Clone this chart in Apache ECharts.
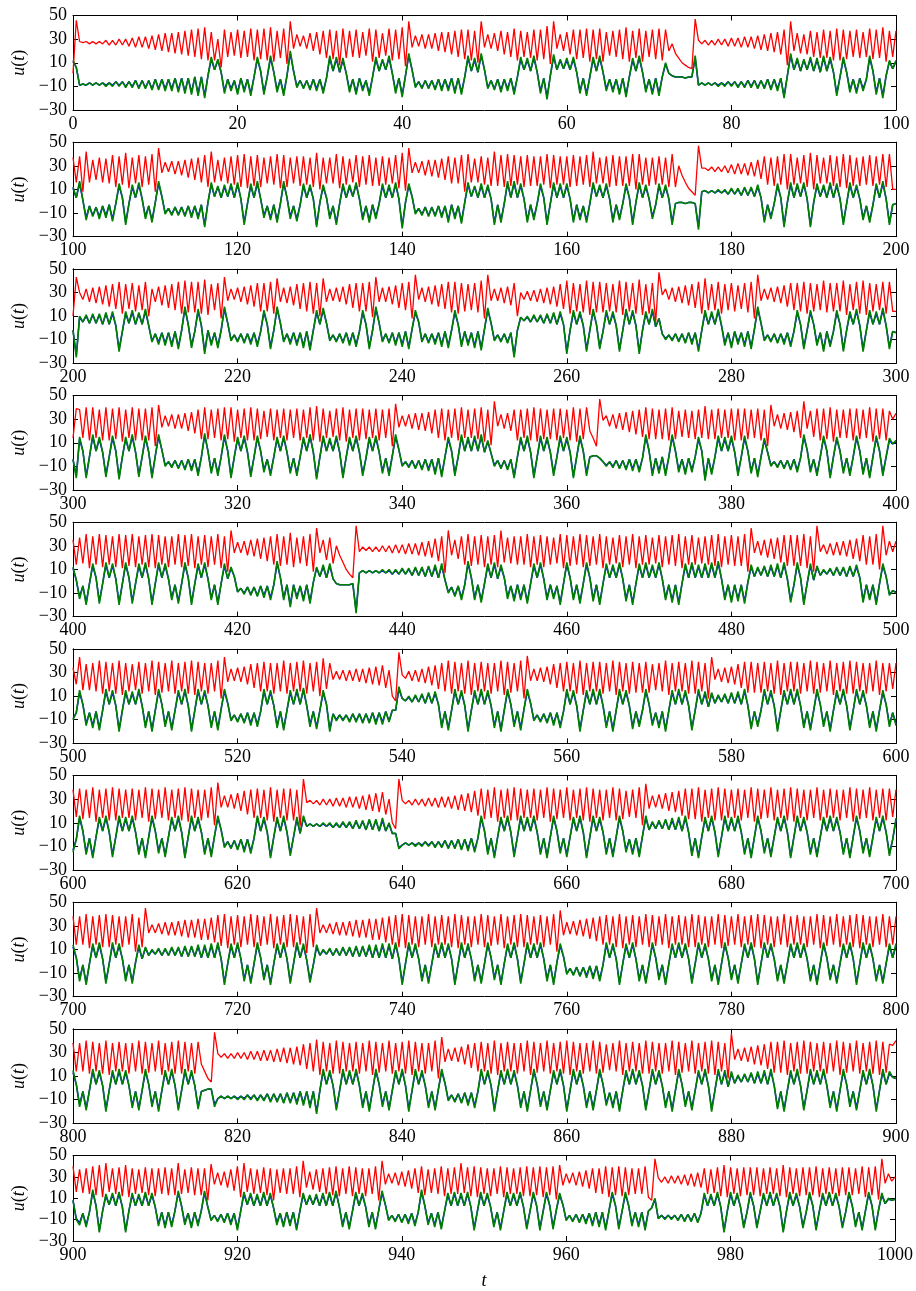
<!DOCTYPE html>
<html>
<head>
<meta charset="utf-8">
<script src="https://cdn.jsdelivr.net/npm/echarts@6/dist/echarts.min.js"></script>
<style>
  html, body { margin: 0; padding: 0; background: #fff; }
  #chart { width: 916px; height: 1291px; }
</style>
</head>
<body>
<div id="chart"></div>
<script>
// Stored samples are spaced DT time units apart; each row covers 100 time units.
const DT = 0.4;
const panelStart = [0, 100, 200, 300, 400, 500, 600, 700, 800, 900];
const yTicks = [-30, -10, 10, 30, 50];
const xStep = 20;

// ---------- x(t) (blue) ----------
const x1 = [11,6,-9,-8,-9,-7,-9,-7,-9,-7,-9,-7,-9,-6,-9,-6,-10,-6,-10,-5,-11,-5,-11,-5,-12,-4,-12,-4,-12,-4,-12,-3,-13,-3,-14,-3,-15,-2,-16,-2,-18,-1,
  13,4,12,2,-14,-4,-12,-5,-15,-3,-13,-4,-16,-2,13,3,-15,-2,14,2,-13,-4,-16,-1,18,3,-10,-5,-11,-5,-12,-4,-12,-4,-14,-3,14,3,13,2,12,1,
  -13,-4,-15,-3,-12,-5,-16,-2,13,3,12,4,14,1,-14,-3,-17,-1,16,4,-10,-6,-11,-5,-11,-5,-12,-4,-12,-4,-12,-3,-14,-3,-15,-2,14,3,12,2,16,4,
  -11,-5,-12,-4,-13,-4,-12,-3,-15,-2,13,4,12,3,14,2,-14,-3,-19,-1,15,4,12,5,12,4,13,2,-14,-3,-16,-2,13,3,14,2,-12,-4,-13,-4,-15,-3,-17,-2,
  12,3,14,2,-13,-4,-15,-3,-16,-2,9,1,-1,-2,-2,-2,-3,-2,-2,14,-9,-7,-9,-7,-9,-7,-9,-7,-9,-6,-9,-6,-10,-6,-10,-5,-10,-5,-11,-5,-11,-4,-12,-4,-12,-3,
  -18,-1,16,4,12,3,12,4,13,3,12,2,14,3,13,2,-16,-2,13,2,-13,-4,-14,-3,-12,-4,14,3,-15,-3,-18,-1,11,5];
const x2 = [11,3,15,1,-14,-4,-12,-5,-13,-4,-12,-3,-15,-2,13,3,-18,-2,12,3,14,2,-13,-4,-16,-1,15,4,-10,-6,-11,-5,-11,-5,-12,-4,-12,-4,-13,-3,-20,-1,
  14,4,12,3,12,4,13,3,14,2,-18,-2,13,3,15,2,-12,-4,-14,-3,-16,-2,15,3,-13,-4,-15,-3,13,3,12,2,-20,-1,12,3,-13,-4,-18,-2,13,3,12,4,14,2,
  -14,-4,-16,-3,-13,-2,13,3,12,3,14,2,-21,-1,13,4,-10,-6,-11,-5,-12,-5,-12,-4,-12,-4,-16,-3,-13,-4,-17,-1,14,4,12,3,13,3,12,2,-18,-3,-16,-2,
  15,3,15,3,13,2,-16,-3,-14,-2,13,3,-18,-2,14,3,13,3,13,2,-16,-3,-14,-4,-16,-2,14,4,12,3,13,2,-16,-3,-14,-2,13,3,-18,-1,14,3,12,2,-13,-3,
  13,3,12,2,-18,-2,-1,-1,-2,-1,-1,-2,-22,8,9,7,9,7,9,7,9,6,10,6,10,5,11,5,11,4,12,3,-16,-3,-13,-2,13,3,-20,-1,14,3,13,4,14,2,-20,-1,
  13,4,12,3,14,3,13,2,-18,-2,14,3,12,2,-14,-4,-16,-3,13,3,15,2,-18,-3];
const x3 = [-2,-23,9,5,10,4,11,4,11,3,12,3,12,2,-18,-3,12,4,13,3,12,3,14,2,-11,-5,-12,-4,-13,-4,-14,-3,-16,-2,16,3,-15,-3,14,2,-20,-2,-13,-4,-15,-2,
  16,4,-10,-6,-11,-5,-12,-5,-12,-4,-14,-3,13,3,-16,-2,16,4,-11,-5,-12,-4,-13,-4,-15,-3,-17,-2,13,3,15,4,-10,-6,-11,-5,-12,-4,-13,-4,-14,-3,
  13,3,-16,-2,16,4,-11,-5,-12,-4,-13,-4,-14,-3,-16,-1,13,5,-11,-5,-12,-5,-12,-4,-14,-3,-15,-2,13,3,-14,-3,-13,-4,-15,-3,-17,-1,15,4,
  -10,-6,-11,-5,-12,-4,-23,-2,9,6,9,5,10,5,10,4,11,4,12,3,12,3,-20,-2,13,3,12,2,-18,-2,14,3,-16,-3,13,3,12,2,-18,-2,14,3,13,2,-20,-2,
  12,3,14,1,8,-5,-9,-6,-10,-5,-11,-5,-12,-4,-12,-4,-18,-2,13,3,12,3,14,2,-13,-4,-15,-3,-12,-4,-14,-3,-16,-1,16,4,-10,-6,-11,-5,-12,-5,-12,-4,-14,-3,
  13,3,-16,-2,13,3,-13,-4,-18,-3,-14,-3,13,3,-18,-2,12,3,14,2,-18,-2,13,3,12,3,15,2,-16,-3];
const x4 = [-4,-18,13,3,-18,-2,15,3,13,2,-17,-2,14,3,-19,-2,13,3,15,2,-17,-2,14,2,-18,-1,15,4,-9,-6,-10,-5,-11,-5,-12,-4,-12,-4,-16,-2,16,3,
  -14,-3,-16,-2,15,3,-18,-2,13,3,14,2,-17,-2,14,3,-13,-4,-16,-2,13,3,14,2,-14,-3,-16,-2,13,3,15,2,-19,-2,14,3,12,3,14,2,-18,-2,13,3,14,2,
  -16,-3,13,3,14,2,-14,-3,-16,-1,15,4,-9,-6,-10,-5,-11,-5,-12,-4,-12,-4,-15,-3,-17,-2,13,3,-16,-2,15,3,13,3,14,3,15,2,11,1,
  -9,-5,-11,-5,-12,-4,-18,-2,13,3,14,2,-18,-2,14,3,13,2,-16,-2,14,3,13,2,-18,-2,14,3,-16,-2,-1,-1,-3,-6,
  -9,-6,-10,-5,-11,-5,-12,-4,-12,-4,-13,-3,15,3,-16,-3,-14,-2,-16,-2,15,3,-13,-4,-15,-3,-13,-2,13,3,-20,-3,-15,-2,14,3,13,3,14,2,-16,-2,14,3,
  -14,-3,-17,-2,12,2,-9,-6,-10,-5,-11,-5,-12,-4,-13,-3,15,4,-13,-4,-16,-2,14,3,-18,-2,13,3,-14,-3,-16,-2,14,3,-15,-3,-18,-2,14,3,-16,-2,12,9];
const x5 = [11,1,-13,-4,-18,-2,13,3,-17,-2,14,3,13,2,-18,-2,14,3,-17,-2,13,3,14,2,-18,-2,14,3,13,2,-14,-3,-17,-2,14,3,-18,-2,13,3,14,2,
  -14,-3,-18,-2,13,2,11,4,-9,-6,-10,-5,-11,-5,-12,-4,-12,-4,-14,-3,15,3,-14,-3,-20,-3,-13,-4,-15,-3,-17,-1,11,4,12,3,13,2,
  -2,-3,-3,-3,-3,-2,-25,7,9,7,9,7,9,7,9,7,9,6,9,6,10,6,10,5,11,5,11,4,12,4,12,3,13,1,-9,-5,-12,-4,-14,-3,15,3,-14,-3,-16,-2,13,3,14,2,12,3,
  -13,-4,-15,-3,-14,-3,-17,-2,13,3,14,2,-14,-3,-13,-4,-18,-2,14,3,-14,-3,-17,-2,14,3,-15,-3,-18,-2,13,3,12,3,14,2,-15,-3,-18,-2,
  13,3,14,3,12,3,14,2,-14,-3,-16,-3,-18,-2,13,3,14,3,12,3,13,3,14,3,15,2,-14,-3,-16,-3,-15,-3,-17,-1,12,4,11,5,12,4,12,4,13,3,14,2,
  -16,-3,14,3,-18,-2,13,1,12,5,9,6,10,5,11,5,11,4,12,4,12,3,-16,-3,-14,-3,-18,-2,13,4,-11,-8];
const x6 = [-9,-4,13,3,-13,-4,-15,-3,-17,-2,14,3,13,2,-18,-2,13,3,12,3,14,2,-15,-3,-18,-2,14,3,-14,-3,-17,-2,13,3,14,2,-18,-2,14,3,13,2,
  -15,-3,-17,-1,14,4,-10,-6,-11,-5,-12,-4,-13,-4,-14,-3,14,3,13,2,-15,-3,-17,-2,13,3,14,3,15,2,-14,-3,-16,-2,13,3,-18,-5,
  -10,-6,-10,-6,-11,-5,-11,-5,-12,-5,-12,-4,-12,-4,-12,-3,-11,-2,-2,16,8,6,9,5,10,5,11,4,12,4,12,3,-15,-3,-17,-2,14,3,13,2,-18,-2,
  13,3,14,3,13,2,-15,-3,-18,-2,14,3,-14,-3,-17,-1,14,4,-10,-6,-11,-5,-12,-4,-13,-4,-15,-3,14,3,13,2,-18,-2,13,3,14,3,14,2,-15,-3,-18,-2,
  14,3,13,2,-16,-3,-14,-2,14,3,-13,-4,-15,-3,-18,-2,13,3,14,3,13,2,-17,-2,14,3,12,1,12,4,10,5,11,4,12,4,12,3,14,2,-16,-3,-14,-2,
  14,3,13,2,-18,-2,13,3,14,3,14,2,-15,-3,-17,-2,14,3,-14,-3,-18,-2,13,3,14,2,-17,-2,14,3,13,2,-15,-3,-18,-2,13,3,-14,-4];
const x7 = [-13,-4,14,3,-15,-3,-18,-2,13,3,14,2,-17,-2,14,3,13,3,14,2,-15,-3,-18,-2,14,3,-14,-3,-17,-2,13,3,14,2,-18,-2,14,3,13,2,
  -15,-3,-17,-1,14,4,-10,-6,-11,-5,-12,-4,-13,-4,-14,-3,14,3,13,2,-18,-2,13,3,14,2,-16,-2,13,1,14,7,
  9,7,9,7,9,7,9,6,9,6,10,6,10,5,11,5,11,4,12,4,12,3,12,3,9,1,1,-11,
  -9,-7,-9,-7,-9,-7,-9,-6,-9,-6,-10,-6,-10,-5,-11,-5,-11,-4,-12,-4,-12,-3,-13,-3,14,3,-15,-3,-18,-2,13,3,14,2,-17,-2,14,3,13,3,14,2,
  -15,-3,-18,-2,14,3,-14,-3,-17,-2,13,3,14,2,-18,-2,14,3,13,2,-15,-3,-17,-2,14,3,-13,-4,-15,-3,-17,-1,14,4,10,5,11,5,12,4,12,4,13,3,14,2,
  -16,-3,-18,-2,13,3,14,2,-17,-2,14,3,13,3,14,2,-15,-3,-18,-2,14,3,-14,-3,-17,-2,13,3,14,2,-18,-2,14,3,13,2,-15,-3,-17,-2,
  13,3,14,3,13,2,-15,-3,-18,-2,14,3,-14,-3,-17,-2,13,3,14,2,-16,-4];
const x8 = [12,3,-15,-3,-18,-2,13,3,14,2,-17,-2,14,3,13,2,-15,-3,-17,-1,12,2,11,5,9,6,10,5,10,5,11,5,11,4,12,4,12,4,12,3,12,3,13,3,14,2,
  -18,-2,13,3,14,2,-15,-3,-17,-2,14,3,-14,-3,-18,-2,13,3,14,2,-17,-2,14,3,13,1,-16,-3,12,5,
  9,6,10,5,10,5,11,5,11,4,12,4,12,4,12,3,12,3,13,3,13,2,14,2,-18,-2,14,3,13,2,-15,-3,-17,-2,13,3,14,3,13,2,-18,-2,14,3,13,2,
  -15,-3,-17,-2,14,3,-14,-3,-18,-2,13,3,14,2,-17,-2,14,3,13,3,14,2,-15,-3,-18,-1,13,4,-10,-6,-11,-5,-12,-5,-12,-4,-13,-4,-15,-3,
  14,3,13,2,-18,-2,13,3,14,2,-15,-3,-17,-2,14,3,-14,-3,-18,-2,13,3,14,3,13,2,-17,-2,14,3,13,2,-15,-3,-18,-2,14,3,-14,-3,-17,-2,
  13,3,14,2,-18,-2,14,3,13,2,-15,-3,-17,-2,13,3,14,3,13,2,-15,-3,-18,-2,14,3,-14,-3,-17,-2,13,3,14,2,-18,-2,14,3,13,2,-15,-3,-17,-2,13,3];
const x9 = [13,3,-14,-3,-17,-2,14,3,13,2,-18,-2,13,3,14,3,13,2,-15,-3,-17,-2,14,3,-14,-3,-18,-2,13,3,14,2,-17,-2,14,3,13,2,-16,-3,-2,-1,-1,-14,
  -9,-7,-9,-7,-9,-7,-9,-7,-9,-6,-9,-6,-10,-6,-10,-5,-11,-5,-11,-5,-12,-4,-12,-4,-12,-3,-13,-3,-15,-3,-20,-2,14,3,13,2,-17,-2,14,3,13,3,14,2,
  -15,-3,-18,-2,14,3,-14,-3,-17,-2,13,3,14,2,-18,-2,14,3,13,2,-15,-3,-17,-1,14,4,-10,-6,-11,-5,-12,-4,-13,-4,-15,-3,14,3,13,2,-18,-2,
  13,3,14,3,13,2,-15,-3,-18,-2,14,3,-14,-3,-17,-2,13,3,14,2,-18,-2,14,3,13,2,-15,-3,-17,-2,14,3,-13,-4,-15,-3,-18,-2,13,3,14,3,13,2,
  -17,-2,14,3,13,2,-15,-3,-18,-2,14,3,-14,-3,-17,-2,13,3,14,2,-18,-2,14,3,13,1,12,4,10,5,11,5,12,4,12,4,13,3,14,2,-16,-3,-18,-2,
  13,3,14,2,-17,-2,14,3,13,3,14,2,-15,-3,-18,-2,14,3,-14,-3,-17,-2,13,3,14,2,-18,-2,14,3,12,9];
const x10 = [8,-9,-13,-4,-15,-3,16,3,-20,-2,12,4,13,3,14,2,-20,-2,13,3,12,3,14,3,13,2,-14,-3,-16,-3,-15,-2,15,3,-13,-4,-16,-3,-14,-2,15,2,
  -10,-6,-11,-5,-12,-4,-13,-4,-18,-2,14,4,13,3,12,3,14,3,13,1,-13,-4,-15,-3,-14,-3,-18,-2,13,4,12,4,12,3,13,3,14,3,15,2,-15,-3,-17,-2,
  14,3,13,2,-15,-3,-17,-1,15,4,-10,-6,-11,-5,-12,-5,-12,-4,-14,-3,16,3,-13,-4,-15,-3,-17,-2,13,3,14,3,13,3,14,2,-18,-2,14,3,13,2,
  -15,-3,-18,-2,14,3,13,3,14,2,-17,-2,14,3,-18,-2,14,3,-17,-1,13,4,-10,-6,-11,-5,-12,-5,-12,-4,-14,-3,-15,-3,-18,-2,14,3,-17,-2,14,3,
  -14,-3,-15,-3,-18,-2,1,9,-9,-6,-9,-6,-9,-6,-10,-5,-11,-5,-11,-4,-12,-4,13,3,12,3,14,2,-20,-2,14,3,13,2,-16,-3,14,3,-16,-2,13,3,14,3,13,2,
  -20,-2,14,3,13,2,-16,-3,14,3,-18,-2,13,3,14,3,13,2,-16,-3,14,3,-15,-3,-18,-2,14,3,-18,-1,13,5,9,8,9];

// ---------- y(t) (green) ----------
const y1 = [12,6,-9,-8,-9,-7,-9,-7,-9,-7,-10,-7,-10,-6,-10,-6,-11,-6,-11,-5,-12,-5,-12,-5,-13,-4,-13,-4,-14,-4,-14,-3,-15,-3,-16,-3,-17,-2,-18,-2,-20,-1,
  15,4,13,2,-16,-4,-14,-5,-17,-3,-15,-4,-18,-2,15,3,-17,-2,16,2,-15,-4,-18,-1,20,3,-11,-5,-12,-5,-13,-4,-14,-4,-16,-3,16,3,15,2,14,1,
  -15,-4,-17,-3,-14,-5,-18,-2,15,3,13,4,16,1,-16,-3,-19,-1,18,4,-11,-6,-12,-5,-12,-5,-13,-4,-14,-4,-14,-3,-16,-3,-17,-2,16,3,14,2,18,4,
  -12,-5,-13,-4,-15,-4,-14,-3,-17,-2,15,4,14,3,16,2,-16,-3,-21,-1,17,4,13,5,14,4,15,2,-16,-3,-18,-2,15,3,16,2,-14,-4,-15,-4,-17,-3,-19,-2,
  14,3,16,2,-15,-4,-17,-3,-18,-2,10,1,-1,-2,-2,-2,-3,-2,-2,16,-9,-7,-9,-7,-9,-7,-10,-7,-10,-6,-10,-6,-11,-6,-11,-5,-11,-5,-12,-5,-12,-4,-13,-4,-14,-3,
  -20,-1,18,4,14,3,13,4,15,3,14,2,16,3,15,2,-18,-2,15,2,-15,-4,-16,-3,-14,-4,16,3,-17,-3,-20,-1,12,5];
const y2 = [12,3,17,1,-16,-4,-13,-5,-15,-4,-14,-3,-17,-2,15,3,-20,-2,14,3,16,2,-15,-4,-18,-1,17,4,-11,-6,-12,-5,-12,-5,-13,-4,-14,-4,-15,-3,-22,-1,
  16,4,13,3,14,4,15,3,16,2,-20,-2,15,3,17,2,-14,-4,-16,-3,-18,-2,17,3,-15,-4,-17,-3,15,3,14,2,-22,-1,14,3,-15,-4,-20,-2,15,3,14,4,16,2,
  -16,-4,-18,-3,-15,-2,15,3,14,3,16,2,-23,-1,15,4,-11,-6,-12,-5,-13,-5,-13,-4,-14,-4,-18,-3,-15,-4,-19,-1,16,4,13,3,15,3,14,2,-20,-3,-18,-2,
  17,3,17,3,15,2,-18,-3,-16,-2,15,3,-20,-2,16,3,15,3,15,2,-18,-3,-16,-4,-18,-2,16,4,14,3,15,2,-18,-3,-16,-2,15,3,-20,-1,16,3,14,2,-15,-3,
  15,3,14,2,-20,-2,-1,-1,-2,-1,-1,-2,-24,8,9,7,9,7,10,7,10,6,11,6,11,5,12,5,12,4,14,3,-18,-3,-15,-2,15,3,-22,-1,16,3,15,4,16,2,-22,-1,
  15,4,14,3,16,3,15,2,-20,-2,16,3,14,2,-16,-4,-18,-3,15,3,17,2,-20,-3];
const y3 = [-2,-25,10,5,11,4,12,4,12,3,13,3,14,2,-20,-3,14,4,15,3,13,3,16,2,-12,-5,-14,-4,-15,-4,-16,-3,-18,-2,18,3,-17,-3,16,2,-22,-2,-15,-4,-17,-2,
  18,4,-11,-6,-12,-5,-13,-5,-14,-4,-16,-3,15,3,-18,-2,18,4,-12,-5,-14,-4,-15,-4,-17,-3,-19,-2,15,3,17,4,-11,-6,-12,-5,-13,-4,-15,-4,-16,-3,
  15,3,-18,-2,18,4,-12,-5,-13,-4,-15,-4,-16,-3,-18,-1,15,5,-12,-5,-13,-5,-14,-4,-16,-3,-17,-2,15,3,-16,-3,-15,-4,-17,-3,-19,-1,17,4,
  -11,-6,-12,-5,-13,-4,-25,-2,9,6,10,5,11,5,11,4,12,4,13,3,14,3,-22,-2,15,3,14,2,-20,-2,16,3,-18,-3,15,3,14,2,-20,-2,16,3,15,2,-22,-2,
  14,3,16,1,8,-5,-10,-6,-11,-5,-12,-5,-13,-4,-14,-4,-20,-2,15,3,14,3,16,2,-15,-4,-17,-3,-14,-4,-16,-3,-18,-1,18,4,-11,-6,-12,-5,-13,-5,-14,-4,-16,-3,
  15,3,-18,-2,15,3,-15,-4,-20,-3,-16,-3,15,3,-20,-2,14,3,16,2,-20,-2,15,3,14,3,17,2,-18,-3];
const y4 = [-4,-20,15,3,-20,-2,17,3,15,2,-19,-2,16,3,-21,-2,15,3,17,2,-19,-2,16,2,-20,-1,17,4,-10,-6,-11,-5,-12,-5,-13,-4,-14,-4,-18,-2,18,3,
  -16,-3,-18,-2,17,3,-20,-2,15,3,16,2,-19,-2,16,3,-15,-4,-18,-2,15,3,16,2,-16,-3,-18,-2,15,3,17,2,-21,-2,16,3,14,3,16,2,-20,-2,15,3,16,2,
  -18,-3,15,3,16,2,-16,-3,-18,-1,17,4,-10,-6,-11,-5,-12,-5,-13,-4,-14,-4,-17,-3,-19,-2,15,3,-18,-2,17,3,15,3,16,3,17,2,12,1,
  -10,-5,-12,-5,-13,-4,-20,-2,15,3,16,2,-20,-2,16,3,15,2,-18,-2,16,3,15,2,-20,-2,16,3,-18,-2,-1,-1,-3,-6,
  -10,-6,-11,-5,-12,-5,-13,-4,-14,-4,-15,-3,17,3,-18,-3,-16,-2,-18,-2,17,3,-15,-4,-17,-3,-15,-2,15,3,-22,-3,-17,-2,16,3,15,3,16,2,-18,-2,16,3,
  -16,-3,-19,-2,14,2,-10,-6,-11,-5,-12,-5,-13,-4,-15,-3,17,4,-15,-4,-18,-2,16,3,-20,-2,15,3,-16,-3,-18,-2,16,3,-17,-3,-20,-2,16,3,-18,-2,14,9];
const y5 = [12,1,-15,-4,-20,-2,15,3,-19,-2,16,3,15,2,-20,-2,16,3,-19,-2,15,3,16,2,-20,-2,16,3,15,2,-16,-3,-19,-2,16,3,-20,-2,15,3,16,2,
  -16,-3,-20,-2,15,2,12,4,-9,-6,-11,-5,-12,-5,-13,-4,-14,-4,-16,-3,17,3,-16,-3,-22,-3,-15,-4,-17,-3,-19,-1,12,4,14,3,15,2,
  -2,-3,-3,-3,-3,-2,-27,7,9,7,9,7,9,7,10,7,10,6,10,6,11,6,11,5,12,5,12,4,13,4,14,3,15,1,-10,-5,-13,-4,-16,-3,17,3,-16,-3,-18,-2,15,3,16,2,14,3,
  -15,-4,-17,-3,-16,-3,-19,-2,15,3,16,2,-16,-3,-15,-4,-20,-2,16,3,-16,-3,-19,-2,16,3,-17,-3,-20,-2,15,3,14,3,16,2,-17,-3,-20,-2,
  15,3,16,3,14,3,16,2,-16,-3,-18,-3,-20,-2,15,3,16,3,14,3,15,3,16,3,17,2,-16,-3,-18,-3,-17,-3,-19,-1,14,4,12,5,13,4,14,4,15,3,16,2,
  -18,-3,16,3,-20,-2,15,1,13,5,10,6,11,5,12,5,12,4,13,4,14,3,-18,-3,-16,-3,-20,-2,15,4,-12,-8];
const y6 = [-10,-4,15,3,-15,-4,-17,-3,-19,-2,16,3,15,2,-20,-2,15,3,14,3,16,2,-17,-3,-20,-2,16,3,-16,-3,-19,-2,15,3,16,2,-20,-2,16,3,15,2,
  -17,-3,-19,-1,16,4,-11,-6,-12,-5,-13,-4,-15,-4,-16,-3,16,3,15,2,-17,-3,-19,-2,15,3,16,3,17,2,-16,-3,-18,-2,15,3,-20,-5,
  -11,-6,-11,-6,-12,-5,-12,-5,-13,-5,-13,-4,-14,-4,-14,-3,-12,-2,-2,18,8,6,10,5,11,5,12,4,13,4,14,3,-17,-3,-19,-2,16,3,15,2,-20,-2,
  15,3,16,3,15,2,-17,-3,-20,-2,16,3,-16,-3,-19,-1,16,4,-11,-6,-12,-5,-13,-4,-15,-4,-17,-3,16,3,15,2,-20,-2,15,3,16,3,16,2,-17,-3,-20,-2,
  16,3,15,2,-18,-3,-16,-2,16,3,-15,-4,-17,-3,-20,-2,15,3,16,3,15,2,-19,-2,16,3,14,1,13,4,11,5,12,4,13,4,14,3,16,2,-18,-3,-16,-2,
  16,3,15,2,-20,-2,15,3,16,3,16,2,-17,-3,-19,-2,16,3,-16,-3,-20,-2,15,3,16,2,-19,-2,16,3,15,2,-17,-3,-20,-2,15,3,-16,-4];
const y7 = [-15,-4,16,3,-17,-3,-20,-2,15,3,16,2,-19,-2,16,3,15,3,16,2,-17,-3,-20,-2,16,3,-16,-3,-19,-2,15,3,16,2,-20,-2,16,3,15,2,
  -17,-3,-19,-1,16,4,-11,-6,-12,-5,-13,-4,-15,-4,-16,-3,16,3,15,2,-20,-2,15,3,16,2,-18,-2,15,1,16,7,
  9,7,9,7,10,7,10,6,10,6,11,6,11,5,12,5,12,4,13,4,13,3,14,3,10,1,1,-12,
  -9,-7,-9,-7,-10,-7,-10,-6,-10,-6,-11,-6,-11,-5,-12,-5,-12,-4,-13,-4,-14,-3,-15,-3,16,3,-17,-3,-20,-2,15,3,16,2,-19,-2,16,3,15,3,16,2,
  -17,-3,-20,-2,16,3,-16,-3,-19,-2,15,3,16,2,-20,-2,16,3,15,2,-17,-3,-19,-2,16,3,-15,-4,-17,-3,-19,-1,16,4,11,5,12,5,13,4,14,4,15,3,16,2,
  -18,-3,-20,-2,15,3,16,2,-19,-2,16,3,15,3,16,2,-17,-3,-20,-2,16,3,-16,-3,-19,-2,15,3,16,2,-20,-2,16,3,15,2,-17,-3,-19,-2,
  15,3,16,3,15,2,-17,-3,-20,-2,16,3,-16,-3,-19,-2,15,3,16,2,-18,-4];
const y8 = [14,3,-17,-3,-20,-2,15,3,16,2,-19,-2,16,3,15,2,-17,-3,-19,-1,14,2,12,5,10,6,11,5,11,5,12,5,12,4,13,4,13,4,14,3,14,3,15,3,16,2,
  -20,-2,15,3,16,2,-17,-3,-19,-2,16,3,-16,-3,-20,-2,15,3,16,2,-19,-2,16,3,15,1,-18,-3,14,5,
  10,6,11,5,11,5,12,5,12,4,13,4,13,4,14,3,14,3,15,3,15,2,16,2,-20,-2,16,3,15,2,-17,-3,-19,-2,15,3,16,3,15,2,-20,-2,16,3,15,2,
  -17,-3,-19,-2,16,3,-16,-3,-20,-2,15,3,16,2,-19,-2,16,3,15,3,16,2,-17,-3,-20,-1,15,4,-11,-6,-12,-5,-13,-5,-14,-4,-15,-4,-17,-3,
  16,3,15,2,-20,-2,15,3,16,2,-17,-3,-19,-2,16,3,-16,-3,-20,-2,15,3,16,3,15,2,-19,-2,16,3,15,2,-17,-3,-20,-2,16,3,-16,-3,-19,-2,
  15,3,16,2,-20,-2,16,3,15,2,-17,-3,-19,-2,15,3,16,3,15,2,-17,-3,-20,-2,16,3,-16,-3,-19,-2,15,3,16,2,-20,-2,16,3,15,2,-17,-3,-19,-2,15,3];
const y9 = [15,3,-16,-3,-19,-2,16,3,15,2,-20,-2,15,3,16,3,15,2,-17,-3,-19,-2,16,3,-16,-3,-20,-2,15,3,16,2,-19,-2,16,3,15,2,-18,-3,-2,-1,-1,-16,
  -9,-7,-9,-7,-9,-7,-10,-7,-10,-6,-10,-6,-11,-6,-11,-5,-12,-5,-12,-5,-13,-4,-13,-4,-14,-3,-15,-3,-17,-3,-22,-2,16,3,15,2,-19,-2,16,3,15,3,16,2,
  -17,-3,-20,-2,16,3,-16,-3,-19,-2,15,3,16,2,-20,-2,16,3,15,2,-17,-3,-19,-1,16,4,-11,-6,-12,-5,-13,-4,-15,-4,-17,-3,16,3,15,2,-20,-2,
  15,3,16,3,15,2,-17,-3,-20,-2,16,3,-16,-3,-19,-2,15,3,16,2,-20,-2,16,3,15,2,-17,-3,-19,-2,16,3,-15,-4,-17,-3,-20,-2,15,3,16,3,15,2,
  -19,-2,16,3,15,2,-17,-3,-20,-2,16,3,-16,-3,-19,-2,15,3,16,2,-20,-2,16,3,15,1,14,4,11,5,12,5,13,4,14,4,15,3,16,2,-18,-3,-20,-2,
  15,3,16,2,-19,-2,16,3,15,3,16,2,-17,-3,-20,-2,16,3,-16,-3,-19,-2,15,3,16,2,-20,-2,16,3,14,9];
const y10 = [8,-10,-15,-4,-17,-3,18,3,-22,-2,14,4,15,3,16,2,-22,-2,15,3,14,3,16,3,15,2,-16,-3,-18,-3,-17,-2,17,3,-15,-4,-18,-3,-16,-2,17,2,
  -11,-6,-12,-5,-13,-4,-15,-4,-20,-2,16,4,15,3,14,3,16,3,15,1,-15,-4,-17,-3,-16,-3,-20,-2,15,4,13,4,14,3,15,3,16,3,17,2,-17,-3,-19,-2,
  16,3,15,2,-17,-3,-19,-1,17,4,-11,-6,-12,-5,-13,-5,-14,-4,-16,-3,18,3,-15,-4,-17,-3,-19,-2,15,3,16,3,15,3,16,2,-20,-2,16,3,15,2,
  -17,-3,-20,-2,16,3,15,3,16,2,-19,-2,16,3,-20,-2,16,3,-19,-1,15,4,-11,-6,-12,-5,-13,-5,-14,-4,-16,-3,-17,-3,-20,-2,16,3,-19,-2,16,3,
  -16,-3,-17,-3,-20,-2,1,10,-9,-6,-10,-6,-10,-6,-11,-5,-12,-5,-12,-4,-13,-4,15,3,14,3,16,2,-22,-2,16,3,15,2,-18,-3,16,3,-18,-2,15,3,16,3,15,2,
  -22,-2,16,3,15,2,-18,-3,16,3,-20,-2,15,3,16,3,15,2,-18,-3,16,3,-17,-3,-20,-2,16,3,-20,-1,15,5,10,8,9];

// ---------- z(t) (red) ----------
const z1 = [1,46,28,27,28,26,28,26,28,26,29,25,29,25,30,25,30,24,31,23,32,23,32,22,33,21,34,20,35,19,35,18,36,17,37,16,38,15,39,13,40,12,
  36,12,30,6,38,15,36,16,38,14,37,15,39,12,38,13,39,12,40,11,37,14,39,9,45,22,34,24,33,22,35,20,36,17,37,14,38,13,37,8,39,14,
  37,15,38,14,36,16,39,11,38,14,35,16,39,12,38,13,40,7,45,23,33,24,34,22,34,22,35,20,36,19,36,17,37,15,38,13,38,12,37,10,45,23,
  34,22,35,20,37,17,36,15,39,12,37,15,36,14,38,12,38,13,41,9,45,22,34,20,36,17,38,13,38,14,39,11,38,13,39,11,36,16,37,15,38,13,40,11,
  37,14,39,11,37,15,38,13,39,12,38,20,26,18,14,10,8,6,5,47,29,26,29,25,29,25,30,25,30,24,31,24,31,23,32,23,32,22,33,21,34,20,35,19,36,17,
  38,8,45,20,35,18,34,17,37,15,36,14,38,14,37,12,39,12,38,13,37,15,38,14,36,15,39,13,38,14,40,11,37,15];
const z2 = [37,16,38,8,42,16,35,18,37,16,36,15,39,12,38,14,41,11,37,15,39,12,38,14,40,8,45,24,33,25,34,23,34,22,35,20,36,18,37,16,39,12,
  42,16,35,17,37,15,38,14,39,12,40,11,38,13,39,12,37,15,38,14,40,11,39,12,37,15,38,13,38,14,37,12,41,10,37,15,37,15,40,11,38,14,36,16,39,12,
  38,14,39,13,37,13,38,14,37,15,39,11,41,9,45,24,33,24,34,22,35,21,35,20,36,18,38,15,37,15,39,8,40,16,36,16,38,14,37,13,42,13,39,12,
  40,13,39,14,38,12,39,13,38,13,38,14,40,11,39,14,38,14,38,12,39,13,38,14,39,12,42,15,37,15,38,12,39,13,38,13,38,13,40,10,40,14,37,13,37,14,
  38,14,37,12,40,12,30,22,16,11,8,5,47,28,28,26,29,25,29,25,30,24,31,23,32,23,32,22,33,21,35,19,38,14,37,13,38,14,40,10,40,14,37,15,39,12,41,10,
  39,15,37,15,39,13,38,12,40,11,39,13,37,13,38,14,39,13,38,14,40,12,40,10];
const z3 = [10,43,30,24,33,22,34,21,35,20,36,18,37,16,39,12,37,16,38,14,36,15,39,10,33,22,35,19,36,17,37,15,39,12,40,13,39,13,39,12,41,11,37,15,38,8,
  43,23,33,24,34,22,35,20,36,18,38,14,38,14,39,12,42,22,34,21,35,19,37,16,38,14,39,12,38,10,42,22,33,23,34,22,35,20,37,17,38,14,
  38,14,39,9,43,22,34,22,35,20,36,17,38,15,39,8,45,24,34,22,35,20,36,18,37,16,39,13,39,12,38,14,37,15,38,13,40,8,45,23,
  33,23,34,21,35,19,38,10,30,24,31,23,32,22,33,21,34,20,35,18,37,16,40,12,38,14,37,13,40,11,39,13,39,13,38,14,37,13,40,11,39,14,38,12,41,11,
  37,12,38,5,47,28,33,24,34,22,35,21,36,19,37,17,39,12,42,15,37,15,39,12,37,15,38,14,36,16,38,13,39,8,45,23,33,24,34,22,35,21,36,18,38,15,
  38,14,39,12,38,14,37,15,40,13,38,14,38,14,40,11,37,15,39,12,40,11,38,14,37,15,39,12,39,14];
const z4 = [14,39,38,14,40,12,40,14,38,12,40,12,39,13,40,11,38,14,40,12,39,12,39,12,40,7,42,23,33,24,34,22,34,22,35,20,36,18,38,13,40,13,
  38,14,39,12,40,13,40,11,38,14,39,12,40,12,39,13,37,15,39,12,38,14,39,12,38,14,39,12,38,14,40,12,41,11,39,14,37,15,39,12,40,11,38,14,39,12,
  39,13,38,14,39,12,38,14,39,7,43,23,33,24,34,22,35,21,35,20,36,18,38,14,39,12,38,14,39,12,40,14,38,14,39,13,40,11,38,8,
  45,24,34,22,35,20,38,12,38,14,39,12,40,11,39,13,38,13,39,12,39,14,38,12,40,11,39,13,40,20,14,7,47,29,
  33,24,34,22,35,21,36,19,37,17,38,15,40,13,39,13,38,13,39,12,40,13,37,15,38,14,37,13,38,14,41,13,38,13,39,14,38,14,39,12,39,12,39,13,
  38,14,39,12,38,7,42,24,34,22,35,21,36,19,37,14,45,22,37,15,39,12,39,13,40,11,38,14,38,14,39,12,39,13,38,14,40,11,39,13,39,12,37,30];
const z5 = [35,14,37,15,40,11,38,14,40,12,39,14,38,12,40,11,39,13,40,12,38,14,39,12,40,11,39,14,38,12,38,14,40,12,39,13,40,11,38,14,39,12,
  38,14,40,11,38,8,43,24,33,24,34,22,35,21,36,19,37,17,38,14,40,13,38,14,41,12,37,15,38,13,40,8,45,24,35,18,37,15,
  30,22,16,10,6,3,47,25,29,26,29,25,29,25,30,25,30,24,31,24,31,23,32,23,32,22,33,21,34,20,36,17,38,7,43,22,35,19,38,14,40,13,38,14,39,12,38,14,39,12,43,16,
  37,15,38,14,38,14,40,12,38,14,39,12,38,14,37,15,40,11,39,13,38,14,40,12,39,13,38,14,40,11,38,14,37,15,39,12,38,14,40,11,
  38,14,39,14,37,15,39,12,38,14,39,13,40,11,38,14,39,14,37,15,38,14,39,13,40,12,38,14,39,13,38,13,40,8,45,24,34,22,35,20,36,19,37,16,39,13,
  39,13,39,13,40,11,38,8,47,25,31,23,32,22,33,22,34,21,35,19,36,17,39,14,38,14,40,10,47,22,34,25];
const z6 = [34,20,43,15,37,15,38,14,40,12,39,14,38,12,40,11,38,14,37,15,39,12,38,14,40,11,39,13,38,14,40,12,38,14,39,12,40,11,39,14,38,12,
  38,14,40,8,43,22,33,23,34,22,35,20,37,17,38,14,39,14,38,12,38,14,40,12,38,14,39,14,40,12,38,14,39,10,42,16,38,24,
  31,24,32,23,32,23,33,22,33,21,34,20,35,19,36,17,32,10,6,47,28,25,31,23,32,22,33,21,35,19,36,16,38,14,40,12,39,14,38,12,40,11,
  38,14,39,14,38,12,38,14,40,11,39,13,38,14,40,8,44,23,33,23,34,22,35,20,37,17,38,14,39,14,38,12,40,11,38,14,39,14,39,12,38,14,40,11,
  39,14,38,12,39,13,38,13,39,13,37,15,38,14,40,11,38,14,39,14,38,12,40,12,39,14,38,8,43,24,33,22,34,21,35,20,37,17,39,13,39,13,38,13,
  39,14,38,12,40,11,38,14,39,14,39,12,38,14,40,12,39,13,38,14,40,11,38,14,39,12,40,12,39,14,38,12,38,14,40,11,38,14,38,16];
const z7 = [38,15,39,13,38,14,40,11,38,14,39,12,40,12,39,14,38,14,39,12,38,14,40,11,39,13,38,14,40,12,38,14,39,12,40,11,39,14,38,12,
  38,14,40,8,44,23,33,23,34,22,35,20,37,17,38,14,39,14,38,12,40,11,38,14,39,12,39,12,38,7,47,27,
  29,26,29,25,30,25,30,24,31,24,31,23,32,23,32,22,33,21,34,20,35,19,36,17,30,10,5,47,
  29,26,29,25,30,25,30,24,31,24,31,23,32,23,32,22,33,21,34,20,35,19,37,16,39,13,38,14,40,11,38,14,39,12,40,12,39,14,38,14,39,12,
  38,14,40,11,39,13,38,14,40,12,38,14,39,12,40,11,39,14,38,12,38,14,40,12,39,13,37,15,38,14,40,8,43,22,33,23,34,22,35,20,36,19,37,16,39,13,
  39,13,40,11,38,14,39,12,40,12,39,14,38,14,39,12,38,14,40,11,39,13,38,14,40,12,38,14,39,12,40,11,39,14,38,12,38,14,40,12,
  38,14,39,14,38,12,38,14,40,11,39,13,38,14,40,12,38,14,39,12,39,15];
const z8 = [38,14,38,14,40,11,38,14,39,12,40,12,39,14,38,12,38,14,40,8,37,12,45,24,31,24,32,23,33,22,33,22,34,21,35,20,35,20,36,18,36,18,37,16,39,13,
  40,11,38,14,39,12,38,14,40,12,39,13,38,14,40,11,38,14,39,12,40,12,39,14,38,7,40,12,45,24,
  31,24,32,23,33,22,33,22,34,21,35,20,35,20,36,18,36,18,37,16,38,14,39,12,40,11,39,14,38,12,38,14,40,12,38,14,39,14,38,12,40,11,39,14,38,12,
  38,14,40,12,39,13,38,14,40,11,38,14,39,12,40,12,39,14,38,14,39,12,38,14,40,8,43,22,33,23,34,22,35,21,36,19,37,17,38,14,
  39,14,38,12,40,11,38,14,39,12,38,14,40,12,39,13,38,14,40,11,38,14,39,14,38,12,40,12,39,14,38,12,38,14,40,11,39,13,38,14,40,12,
  38,14,39,12,40,11,39,14,38,12,38,14,40,12,38,14,39,14,38,12,38,14,40,11,39,13,38,14,40,12,38,14,39,12,40,11,39,14,38,12,38,14,40,12,38,14];
const z9 = [38,14,38,14,40,12,39,14,38,12,40,11,38,14,39,14,38,12,38,14,40,12,39,13,38,14,40,11,38,14,39,12,40,12,39,14,38,12,39,20,14,8,5,47,
  29,26,29,25,29,25,30,25,30,24,31,24,31,23,32,23,32,22,33,22,34,21,34,20,35,19,37,16,38,14,41,11,39,14,38,12,40,12,39,14,38,14,39,12,
  38,14,40,11,39,13,38,14,40,12,38,14,39,12,40,11,39,14,38,12,38,14,40,8,43,22,33,23,34,22,35,20,37,17,38,14,39,14,38,12,40,11,
  38,14,39,14,38,12,38,14,40,11,39,13,38,14,40,12,38,14,39,12,40,11,39,14,38,12,38,14,40,12,39,13,37,15,38,14,40,11,38,14,39,14,38,12,
  40,12,39,14,38,12,38,14,40,11,39,13,38,14,40,12,38,14,39,12,40,11,39,14,38,8,46,24,33,23,34,22,35,20,36,19,37,16,39,13,39,13,40,11,
  38,14,39,12,40,12,39,14,38,14,39,12,38,14,40,11,39,13,38,14,40,12,38,14,39,12,40,11,39,13,37,36];
const z10 = [40,16,37,15,38,14,40,13,41,11,43,16,38,14,39,12,41,11,38,14,37,15,39,13,38,12,38,14,39,13,38,13,43,14,37,15,39,13,38,13,38,8,
  42,23,34,22,35,20,37,17,40,11,43,16,38,14,37,15,39,13,38,8,37,15,38,14,38,14,40,11,45,20,35,18,37,16,38,14,39,13,40,12,38,14,40,12,
  39,14,38,12,38,14,40,8,45,23,33,24,34,22,35,21,36,19,38,15,40,13,37,15,38,14,40,12,38,14,39,14,43,15,39,12,40,11,39,14,38,12,
  38,14,40,11,39,14,38,14,39,12,40,12,39,13,40,11,39,13,40,9,41,22,33,24,34,22,35,21,36,19,38,15,38,14,40,11,39,13,40,12,39,13,
  38,14,38,14,40,11,8,47,29,25,30,24,31,24,31,23,32,22,33,21,34,20,38,14,37,15,39,12,41,11,39,14,38,12,39,13,39,13,39,12,38,14,39,14,38,12,
  41,11,39,14,38,12,39,13,39,13,40,11,38,14,39,14,38,12,39,13,39,13,38,14,40,11,39,13,40,9,47,24,33,26,30];

const X = [x1, x2, x3, x4, x5, x6, x7, x8, x9, x10];
const Y = [y1, y2, y3, y4, y5, y6, y7, y8, y9, y10];
const Z = [z1, z2, z3, z4, z5, z6, z7, z8, z9, z10];

// [t, value] pairs for one row; the next row's first sample closes the gap at the right edge.
function track(list, row) {
  const t0 = panelStart[row];
  const pts = list[row].map((v, i) => [+(t0 + i * DT).toFixed(1), v]);
  const next = list[row + 1];
  if (next && pts[pts.length - 1][0] < t0 + 100) pts.push([t0 + 100, next[0]]);
  return pts;
}

const FONT = '"Liberation Serif", "DejaVu Serif", serif';
const minusFmt = v => (v < 0 ? '\u2212' + Math.abs(v) : String(v));
const plainFmt = v => String(v);

const TOP = 15.5, GAP = 126.67, H = 94.5, LEFT = 73, RIGHT = 20;
const frame = { show: true, onZero: false, lineStyle: { color: '#000', width: 1 } };
const tick = { show: true, inside: true, length: 5, lineStyle: { color: '#000', width: 1 } };

const grid = [], xAxis = [], yAxis = [], series = [];

panelStart.forEach((t0, i) => {
  grid.push({ left: LEFT, right: RIGHT, top: TOP + i * GAP, height: H });

  const xBase = { type: 'value', gridIndex: i, min: t0, max: t0 + 100, interval: xStep,
                  axisLine: frame, axisTick: tick, splitLine: { show: false } };
  xAxis.push(Object.assign({}, xBase, {
    position: 'bottom',
    axisLabel: { color: '#000', fontFamily: FONT, fontSize: 18, margin: 5, formatter: plainFmt },
    name: i === panelStart.length - 1 ? 't' : '',
    nameLocation: 'middle', nameGap: 31,
    nameTextStyle: { color: '#000', fontFamily: FONT, fontSize: 18, fontStyle: 'italic' }
  }));
  xAxis.push(Object.assign({}, xBase, { position: 'top', axisLabel: { show: false } }));

  const yBase = { type: 'value', gridIndex: i, min: -30, max: 50, interval: 20,
                  axisLine: frame, splitLine: { show: false },
                  axisTick: Object.assign({}, tick, { customValues: yTicks }) };
  yAxis.push(Object.assign({}, yBase, {
    position: 'left',
    axisLabel: { color: '#000', fontFamily: FONT, fontSize: 18, margin: 6,
                 customValues: yTicks, formatter: minusFmt },
    name: '{i|u}({i|t})', nameLocation: 'middle', nameGap: 44, nameRotate: 90,
    nameTextStyle: { color: '#000', fontFamily: FONT, fontSize: 18,
                     rich: { i: { fontStyle: 'italic', fontFamily: FONT, fontSize: 18, color: '#000' } } }
  }));
  yAxis.push(Object.assign({}, yBase, { position: 'right', axisLabel: { show: false } }));

  const line = (data, color, width, z) => ({
    type: 'line', xAxisIndex: 2 * i, yAxisIndex: 2 * i, data,
    showSymbol: false, symbol: 'none', silent: true, animation: false, z,
    lineStyle: { color, width }, itemStyle: { color }
  });
  series.push(line(track(X, i), '#0000ff', 1.5, 2));
  series.push(line(track(Y, i), '#008000', 1.6, 3));
  series.push(line(track(Z, i), '#ff0000', 1.3, 4));
});

const chart = echarts.init(document.getElementById('chart'), null, { renderer: 'canvas', width: 916, height: 1291 });
chart.setOption({ animation: false, backgroundColor: '#fff', grid, xAxis, yAxis, series });
</script>
</body>
</html>
